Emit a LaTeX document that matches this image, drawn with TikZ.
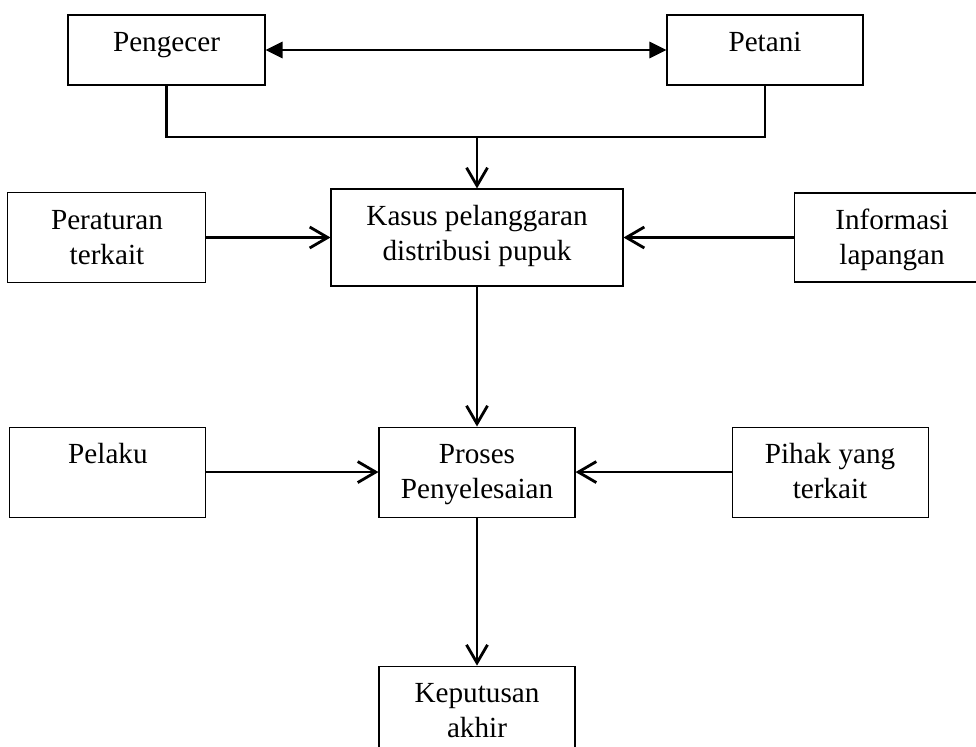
\documentclass[tikz,border=0pt]{standalone}
\usepackage{fontspec}
\setmainfont{Liberation Serif}
\usetikzlibrary{arrows.meta,positioning}
\newcommand{\isi}[3]{\parbox[c][#2][t]{#1}{\centering\rule{0pt}{0.73cm}#3}}

\begin{document}
\begin{tikzpicture}[font=\fontsize{16.6}{20}\selectfont]
    % Gaya
    \tikzstyle{kotak}=[rectangle, draw=black, line width=0.6pt, inner sep=0pt]
    \tikzstyle{garis}=[line width=1.6pt]
    \tikzstyle{panah}=[-{Straight Barb[length=0.36cm, width=0.42cm]}, line width=1.6pt]
    \tikzstyle{duaarah}=[{Triangle[length=0.34cm, width=0.32cm]}-{Triangle[length=0.34cm, width=0.32cm]}, line width=1.6pt]

    \path[use as bounding box, clip] (0,0) rectangle (19.52,-14.92);

    % Node
    \node (pengecer) [kotak] at (3.33,-1.0) {\isi{3.94cm}{1.4cm}{Pengecer}};
    \node (petani) [kotak] at (15.3,-1.0) {\isi{3.92cm}{1.4cm}{Petani}};
    \node (kasus) [kotak] at (9.54,-4.75) {\isi{5.84cm}{1.94cm}{Kasus pelanggaran\\distribusi pupuk}};
    \node (peraturan) [kotak, left=2.48cm of kasus] {\isi{3.96cm}{1.8cm}{Peraturan\\terkait}};
    \node (informasi) [kotak, right=3.4cm of kasus] {\isi{3.92cm}{1.78cm}{Informasi\\lapangan}};
    \node (proses) [kotak, below=2.8cm of kasus] {\isi{3.92cm}{1.8cm}{Proses\\Penyelesaian}};
    \node (pelaku) [kotak, left=3.44cm of proses] {\isi{3.92cm}{1.8cm}{Pelaku}};
    \node (pihak) [kotak, right=3.12cm of proses] {\isi{3.92cm}{1.8cm}{Pihak yang\\terkait}};
    \node (keputusan) [kotak, below=2.96cm of proses] {\isi{3.92cm}{1.8cm}{Keputusan\\akhir}};
    \coordinate (cabang) at (9.54,-2.74);

    % Panah
    \draw [duaarah] (pengecer) -- (petani);
    \draw [garis] (pengecer) |- (cabang) -| (petani);
    \draw [panah] (cabang) -- (kasus);
    \draw [panah] (peraturan) -- (kasus);
    \draw [panah] (informasi) -- (kasus);
    \draw [panah] (kasus) -- (proses);
    \draw [panah] (pelaku) -- (proses);
    \draw [panah] (pihak) -- (proses);
    \draw [panah] (proses) -- (keputusan);

\end{tikzpicture}
\end{document}
